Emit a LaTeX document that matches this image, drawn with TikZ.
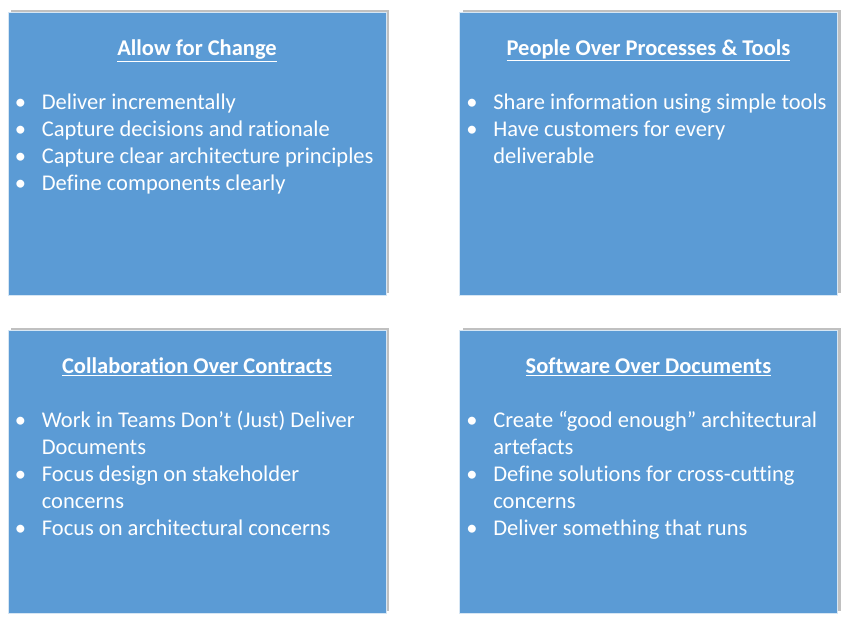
\documentclass[tikz,border=0pt]{standalone}
\usepackage{fontspec}
\setmainfont{Carlito}[Ligatures=NoCommon]
\usepackage{xcolor}
\usetikzlibrary{positioning,shadows}
\definecolor{cardblue}{HTML}{5B9BD5}
\newcommand{\bitem}[1]{\textbullet & #1\\}
\newcommand{\bmore}[1]{& #1\\}

\begin{document}
\begin{tikzpicture}[x=1pt,y=1pt,
  card/.style={rectangle,draw=white!75!cardblue,line width=0.6pt,fill=cardblue,
    minimum width=378pt,minimum height=283pt,inner sep=0pt,
    drop shadow={shadow xshift=3pt,shadow yshift=2pt,opacity=0.45,fill=black!55}},
  heading/.style={text=white,font=\fontsize{22.5}{27}\selectfont\bfseries,anchor=base,inner sep=0pt},
  points/.style={text=white,font=\fontsize{22.5}{27}\selectfont,anchor=base west,inner sep=0pt}]
   \useasboundingbox (0,0) rectangle (850,620);
   % the four cards
   \node[card] (change) at (197,466.5) {};
   \node[card] (people) at (648.5,466.5) {};
   \node[card] (collab) at (197,148.5) {};
   \node[card] (software) at (648.5,148.5) {};
   % headings
   \node[heading] (change title) at ([yshift=-44pt]change.north) {\underline{Allow for Change}};
   \node[heading] (people title) at ([yshift=-44pt]people.north) {\underline{People Over Processes \& Tools}};
   \node[heading] (collab title) at ([yshift=-44pt]collab.north) {\underline{Collaboration Over Contracts}};
   \node[heading] (software title) at ([yshift=-44pt]software.north) {\underline{Software Over Documents}};
   % bullet lists
   \node[points] (change list) at ([xshift=7pt,yshift=-98pt]change.north west)
     {\begin{tabular}[t]{@{}p{27pt}@{}l@{}}
       \bitem{Deliver incrementally}
       \bitem{Capture decisions and rationale}
       \bitem{Capture clear architecture principles}
       \bitem{Define components clearly}
     \end{tabular}};
   \node[points] (people list) at ([xshift=7pt,yshift=-98pt]people.north west)
     {\begin{tabular}[t]{@{}p{27pt}@{}l@{}}
       \bitem{Share information using simple tools}
       \bitem{Have customers for every}
       \bmore{deliverable}
     \end{tabular}};
   \node[points] (collab list) at ([xshift=7pt,yshift=-98pt]collab.north west)
     {\begin{tabular}[t]{@{}p{27pt}@{}l@{}}
       \bitem{Work in Teams Don’t (Just) Deliver}
       \bmore{Documents}
       \bitem{Focus design on stakeholder}
       \bmore{concerns}
       \bitem{Focus on architectural concerns}
     \end{tabular}};
   \node[points] (software list) at ([xshift=7pt,yshift=-98pt]software.north west)
     {\begin{tabular}[t]{@{}p{27pt}@{}l@{}}
       \bitem{Create “good enough” architectural}
       \bmore{artefacts}
       \bitem{Define solutions for cross-cutting}
       \bmore{concerns}
       \bitem{Deliver something that runs}
     \end{tabular}};
\end{tikzpicture}
\end{document}
